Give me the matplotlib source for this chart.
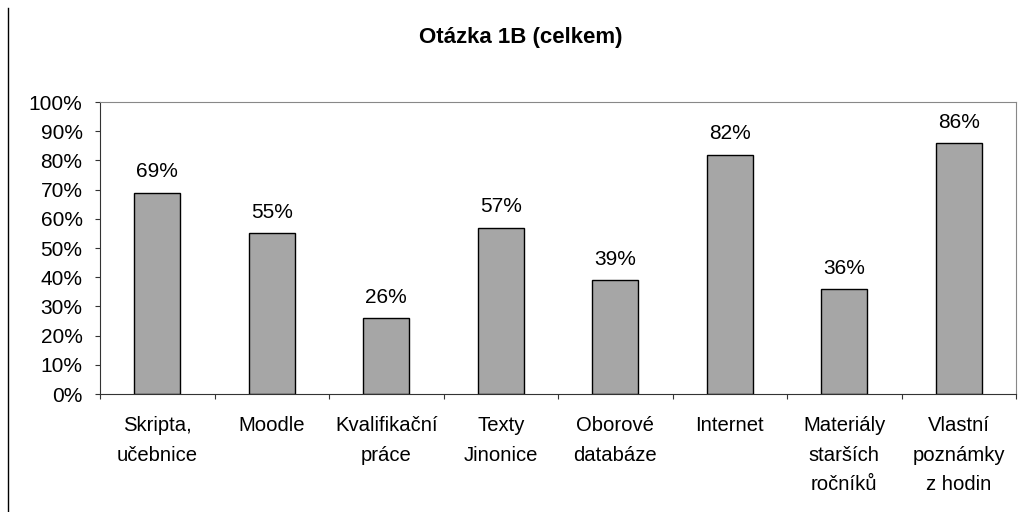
import matplotlib
matplotlib.use('Agg')
import matplotlib.pyplot as plt
from matplotlib.lines import Line2D
from matplotlib.ticker import PercentFormatter

plt.rcParams['font.family'] = ['Liberation Sans', 'DejaVu Sans']

categories = ['Skripta,\nučebnice', 'Moodle', 'Kvalifikační\npráce', 'Texty\nJinonice',
              'Oborové\ndatabáze', 'Internet', 'Materiály\nstarších\nročníků',
              'Vlastní\npoznámky\nz hodin']
values = [69, 55, 26, 57, 39, 82, 36, 86]
title = 'Otázka 1B (celkem)'

fig = plt.figure(figsize=(10.18, 5.12), dpi=100)
ax = fig.add_axes([100/1018, 1 - 394/512, 916/1018, 292/512])

x = range(len(values))
ax.bar(x, values, width=0.4, color='#a6a6a6', edgecolor='black', linewidth=1, zorder=2)
for xi, v in zip(x, values):
    ax.text(xi, v + 3.8, f'{v}%', ha='center', va='bottom', fontsize=15)

ax.set_xlim(-0.5, len(values) - 0.5)
ax.set_ylim(0, 100)
ax.set_yticks(range(0, 101, 10))
ax.yaxis.set_major_formatter(PercentFormatter(decimals=0))
ax.set_xticks([i + 0.5 for i in range(-1, len(values))])
ax.set_xticklabels([])
ax.set_xticks(list(x), minor=True)
ax.set_xticklabels(categories, minor=True, fontsize=14.6, linespacing=1.7, va='top')
ax.tick_params(axis='x', which='minor', length=0, pad=16)
ax.tick_params(axis='x', which='major', direction='out', length=3.6, color='#333333')
ax.tick_params(axis='y', direction='out', length=3.6, labelsize=15, color='#333333', pad=9)

for s in ['left', 'bottom']:
    ax.spines[s].set_color('#333333')
for s in ['top', 'right']:
    ax.spines[s].set_color('#888888')

fig.text(521/1018, 1 - 37/512, title, ha='center', va='center', fontsize=16, fontweight='bold')
fig.add_artist(Line2D([8/1018, 8/1018], [0, 1 - 8/512], color='black', linewidth=1))

fig.savefig('out.png', dpi=100)
